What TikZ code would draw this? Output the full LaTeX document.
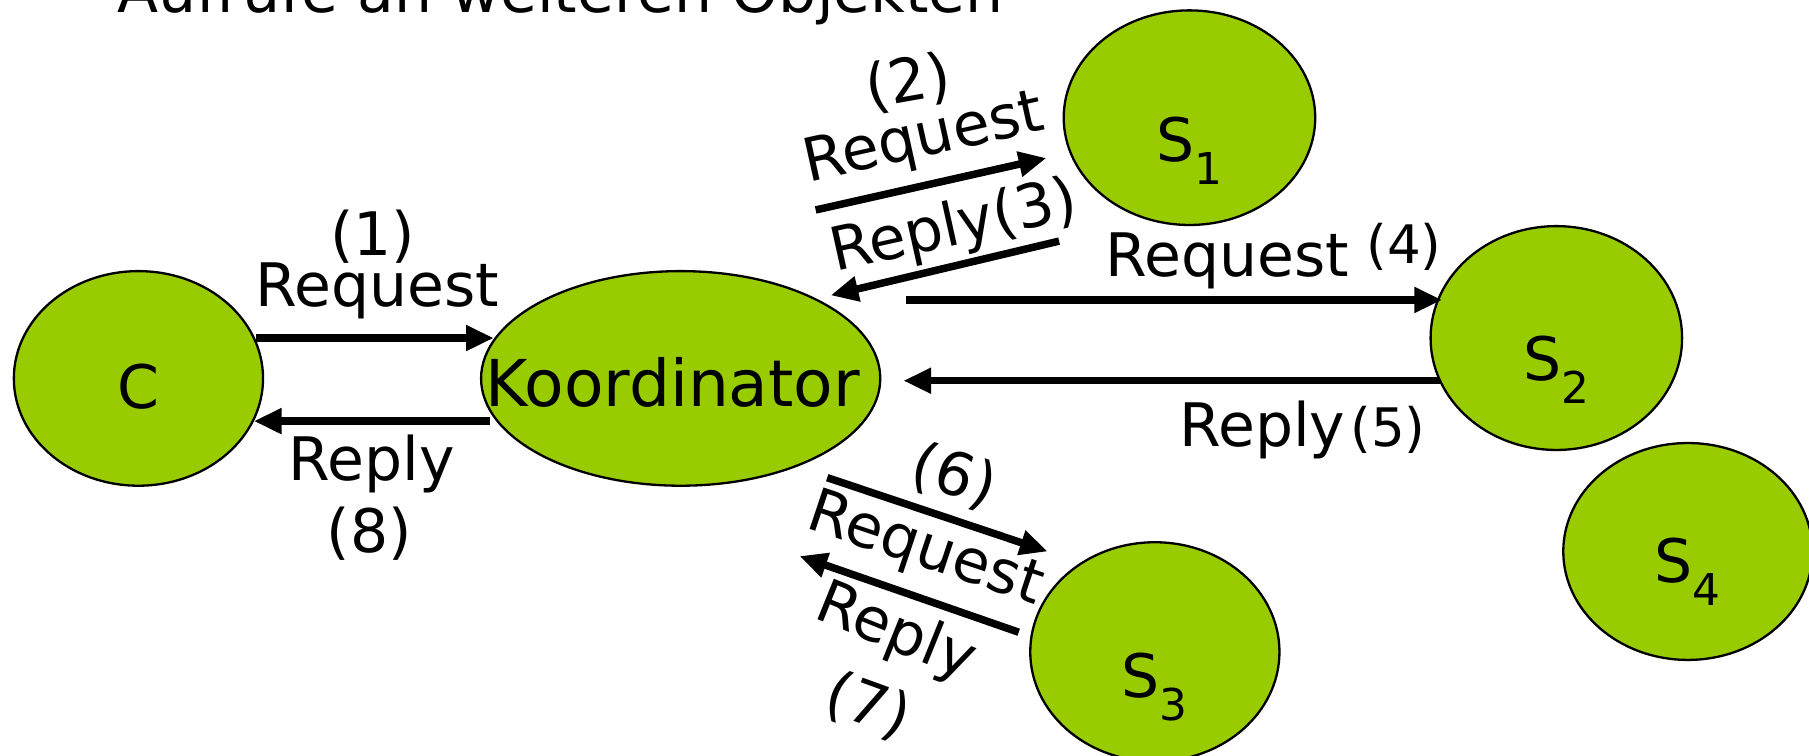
\documentclass[tikz,border=0pt]{standalone}
\usepackage{fontspec}
\setmainfont{DejaVu Sans}
\usetikzlibrary{arrows.meta,shapes.geometric}
\definecolor{objgreen}{HTML}{99CC00}
\newcommand{\sub}[1]{\raisebox{-0.38em}{\fontsize{38}{40}\selectfont #1}}
\begin{document}
\begin{tikzpicture}[x=1pt,y=1pt,
  obj/.style={ellipse, draw=black, line width=2pt, fill=objgreen, inner sep=0pt},
  arr/.style={line width=6.5pt, -{Triangle[length=24pt,width=21pt]}},
  lbl/.style={font=\fontsize{52}{60}\selectfont, inner sep=0pt},
  num/.style={font=\fontsize{46}{52}\selectfont, inner sep=0pt}]
\clip (0,0) rectangle (1568,-655);
\fill[white] (0,0) rectangle (1568,-655);
% title (cut off at top)
\node[lbl, anchor=base] (title) at (486,-11) {Aufrufe an weiteren Objekten};
% objects
\node[obj, minimum width=216pt, minimum height=186pt] (C) at (120,-328) {};
\node[obj, minimum width=346pt, minimum height=186pt] (K) at (590,-328) {};
\node[obj, minimum width=218pt, minimum height=186pt] (S1) at (1031,-102) {};
\node[obj, minimum width=218pt, minimum height=194pt] (S2) at (1349,-293) {};
\node[obj, minimum width=216pt, minimum height=190pt] (S3) at (1001,-565) {};
\node[obj, minimum width=216pt, minimum height=188pt] (S4) at (1463,-478) {};
\node[lbl, anchor=base] (tC) at ([yshift=-26pt]C.center) {C};
\node[lbl, anchor=base, font=\fontsize{56}{60}\selectfont] (tK) at ([xshift=-7pt,yshift=-24pt]K.center) {Koordinator};
\node[lbl, anchor=base] (t1) at ([yshift=-38pt]S1.center) {S\sub{1}};
\node[lbl, anchor=base] (t2) at ([yshift=-37pt]S2.center) {S\sub{2}};
\node[lbl, anchor=base] (t3) at ([yshift=-40pt]S3.center) {S\sub{3}};
\node[lbl, anchor=base] (t4) at ([yshift=-27pt]S4.center) {S\sub{4}};
% arrow end points
\coordinate (a1s) at (222,-293);  \coordinate (a1e) at (428,-293);
\coordinate (a8s) at (425,-365);  \coordinate (a8e) at (220,-365);
\coordinate (a2s) at (707,-182);  \coordinate (a2e) at (907,-137);
\coordinate (a3s) at (918,-209);  \coordinate (a3e) at (720,-256);
\coordinate (a4s) at (785,-260);  \coordinate (a4e) at (1250,-260);
\coordinate (a5s) at (1248,-330); \coordinate (a5e) at (783,-330);
\coordinate (a6s) at (717,-414);  \coordinate (a6e) at (908,-478);
\coordinate (a7s) at (883,-548);  \coordinate (a7e) at (693,-482);
\draw[arr] (a1s) -- (a1e);
\draw[arr] (a8s) -- (a8e);
\draw[arr] (a2s) -- (a2e);
\draw[arr] (a3s) -- (a3e);
\draw[arr] (a4s) -- (a4e);
\draw[arr] (a5s) -- (a5e);
\draw[arr] (a6s) -- (a6e);
\draw[arr] (a7s) -- (a7e);
% labels C <-> Koordinator
\node[lbl] (l1n) at (323,-205) {(1)};
\node[lbl] (l1) at (327,-252) {Request};
\node[lbl] (l8) at (322,-402) {Reply};
\node[lbl] (l8n) at (320,-463) {(8)};
% labels S1
\node[lbl, rotate=10] (l2n) at (787,-72) {(2)};
\node[lbl, rotate=12.5] (l2) at (801,-122) {Request};
\node[lbl, rotate=12.5] (l3) at (827,-198) {Reply(3)};
% labels S2
\node[lbl, anchor=base] (l4) at (1064,-240) {Request};
\node[num, anchor=base] (l4n) at (1217,-228) {(4)};
\node[lbl, anchor=base] (l5) at (1094,-387) {Reply};
\node[num, anchor=base] (l5n) at (1203,-387) {(5)};
% labels S3
\node[lbl, rotate=-18] (l6n) at (827,-413) {(6)};
\node[lbl, rotate=-18.5] (l6) at (802,-478) {Request};
\node[lbl, rotate=-22] (l7) at (776,-549) {Reply};
\node[lbl, rotate=-20] (l7n) at (752,-612) {(7)};
\end{tikzpicture}
\end{document}
